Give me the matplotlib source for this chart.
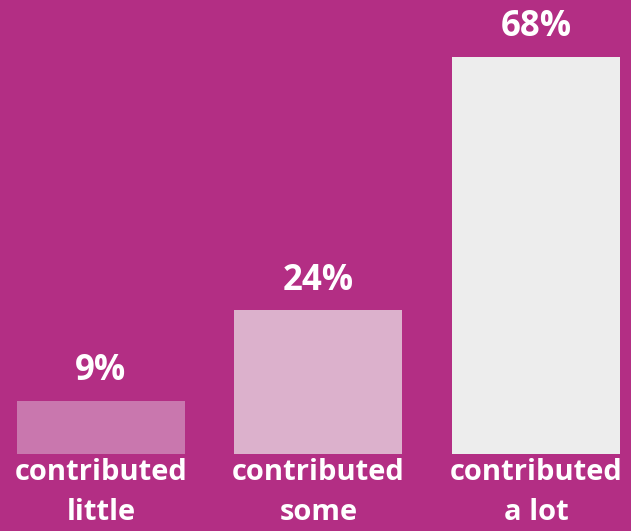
import matplotlib
matplotlib.use("Agg")
import matplotlib.pyplot as plt

categories = ["contributed\nlittle", "contributed\nsome", "contributed\na lot"]
values = [9.1, 24.6, 68.0]
labels = ["9%", "24%", "68%"]
colors = ["#C977AE", "#DCB1CC", "#EDEDED"]
bg = "#B32E84"

fig = plt.figure(figsize=(6.31, 5.31), dpi=100, facecolor=bg)
ax = fig.add_axes([0, 0, 1, 1])
ax.set_facecolor(bg)
x = list(range(len(values)))
ax.bar(x, values, width=0.772, color=colors)
ax.set_xlim(-0.464, 2.437)
ax.set_ylim(-13.18, 77.74)
ax.axis("off")

for xi, v, lab, cat in zip(x, values, labels, categories):
    ax.annotate(lab, (xi, v), xytext=(0, 8.5), textcoords="offset points",
                ha="center", va="bottom", color="white", fontsize=25,
                fontweight="bold", family="Open Sans")
    ax.annotate(cat, (xi, 0), xytext=(0, -3), textcoords="offset points",
                ha="center", va="top", color="white", fontsize=21,
                fontweight="bold", family="Open Sans", linespacing=1.5)

fig.savefig("out.png", dpi=100, facecolor=bg)
